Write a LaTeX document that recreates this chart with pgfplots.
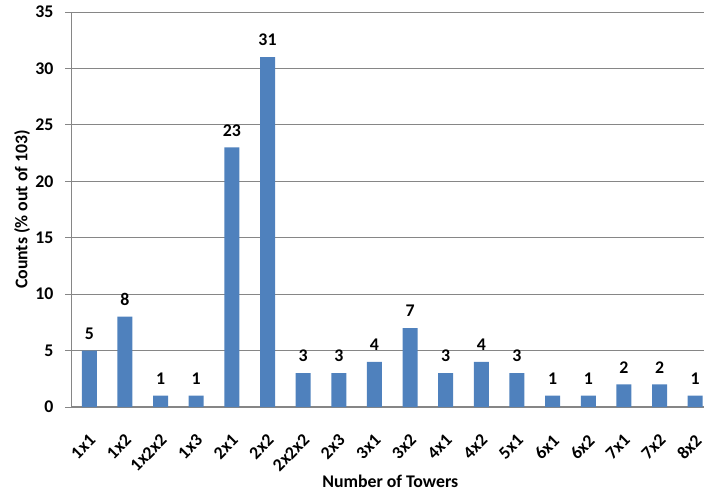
\documentclass[border=0pt]{standalone}
\usepackage{fontspec}
\setmainfont{Carlito}
\usepackage{pgfplots}
\pgfplotsset{compat=1.18}
\definecolor{barblue}{RGB}{79,129,189}
\definecolor{gridgray}{RGB}{134,134,134}
\newcommand{\cf}{\fontsize{17.8bp}{21bp}\selectfont\bfseries}
\begin{document}
\begin{tikzpicture}
\begin{axis}[
  scale only axis,
  width=641.5bp, height=395bp,
  xmin=-0.5, xmax=17.5,
  ymin=0, ymax=35,
  ytick={0,5,...,35},
  xtick=data,
  xticklabels={1x1,1x2,1x2x2,1x3,2x1,2x2,2x2x2,2x3,3x1,3x2,4x1,4x2,5x1,6x1,6x2,7x1,7x2,8x2},
  x tick label style={xshift=-1bp, yshift=-20bp, rotate=45, anchor=north east, font=\cf, inner sep=0pt},
  y tick label style={font=\cf, inner sep=0pt, xshift=-12bp},
  /pgf/number format/assume math mode=true,
  axis x line*=bottom, axis y line*=left,
  axis line style={gridgray, line width=1.3pt, -},
  ymajorgrids, grid style={gridgray, line width=0.9pt},
  ytick style={gridgray, line width=0.9pt},
  xtick style={draw=none},
  tick align=outside, major tick length=6bp,
  ylabel={Counts (\% out of 103)},
  xlabel={Number of Towers},
  label style={font=\cf},
  ylabel style={at={(axis description cs:0,0.5)}, anchor=center, yshift=49.5bp},
  xlabel style={at={(axis description cs:0.5,0)}, anchor=center, yshift=-74bp, xshift=-2bp},
  ybar, bar width=15bp,
  nodes near coords,
  every node near coord/.append style={font=\cf, inner sep=0pt, anchor=south, yshift=11bp},
]
\addplot[fill=barblue, draw=none] coordinates {
(0,5) (1,8) (2,1) (3,1) (4,23) (5,31) (6,3) (7,3) (8,4) (9,7) (10,3) (11,4) (12,3) (13,1) (14,1) (15,2) (16,2) (17,1)
};
\end{axis}
\pgfresetboundingbox
\useasboundingbox ([shift={(-71.5bp,-87bp)}]current axis.south west) rectangle ([shift={(-9bp,12bp)}]current axis.north east);
\end{tikzpicture}
\end{document}
